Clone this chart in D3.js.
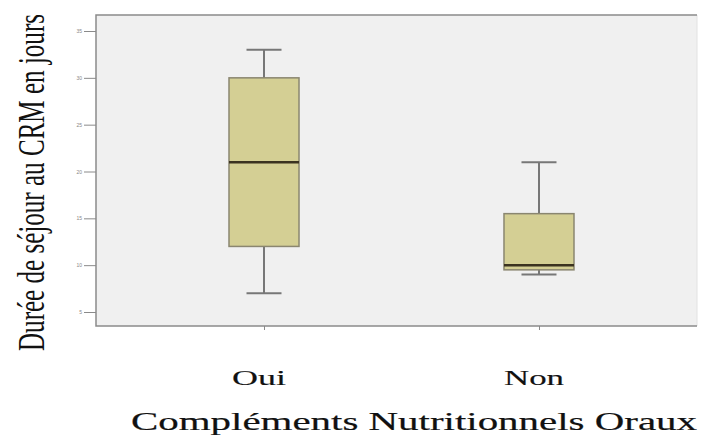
<!DOCTYPE html>
<html><head><meta charset="utf-8">
<script src="https://cdn.jsdelivr.net/npm/d3@7/dist/d3.min.js"></script>
<style>body{margin:0;background:#fff}svg{display:block}</style>
</head><body><svg id="c" width="701" height="437"></svg>
<script>
const categories = ["Oui", "Non"];
const whiskerLow = [7, 9];
const q1 = [12, 9.5];
const median = [21, 10];
const q3 = [30, 15.5];
const whiskerHigh = [33, 21];
const yTicks = [5, 10, 15, 20, 25, 30, 35];
const catLabelWidths = [54, 60];
const yTitle = "Durée de séjour au CRM en jours";
const xTitle = "Compléments Nutritionnels Oraux";

const svg = d3.select("#c");
const L = 96, T = 15, B = 326, R = 697;
const y = d3.scaleLinear().domain([5, 35]).range([312, 31]);
const x = d3.scalePoint().domain(categories).range([L, 707]).padding(0.611);

svg.append("rect").attr("x", L).attr("y", T).attr("width", R - L).attr("height", B - T).attr("fill", "#f0f0f0");
svg.append("line").attr("x1", R).attr("x2", R).attr("y1", T).attr("y2", B).attr("stroke", "#e2e2e2").attr("stroke-width", 1);
svg.append("path").attr("d", `M${R},${T}H${L}V${B}H${R}`).attr("fill", "none").attr("stroke", "#8a8a8a").attr("stroke-width", 1.5);

const yAxis = svg.append("g").attr("transform", `translate(${L},0)`)
  .call(d3.axisLeft(y).tickValues(yTicks).tickSize(12).tickPadding(2));
yAxis.select(".domain").remove();
yAxis.selectAll("line").attr("stroke", "#8a8a8a");
yAxis.selectAll("text").attr("font-family", "Liberation Sans, Arial, sans-serif").attr("font-size", 5).attr("fill", "#888");

const xAxis = svg.append("g").attr("transform", `translate(0,${B})`)
  .call(d3.axisBottom(x).tickSize(4).tickFormat(""));
xAxis.select(".domain").remove();
xAxis.selectAll("line").attr("stroke", "#8a8a8a");

const data = categories.map((c, i) => ({c, lo: whiskerLow[i], q1: q1[i], med: median[i], q3: q3[i], hi: whiskerHigh[i]}));
const bw = 70, cw = 35;
const g = svg.selectAll("g.box").data(data).join("g").attr("class", "box");
g.append("line").attr("x1", d => x(d.c)).attr("x2", d => x(d.c)).attr("y1", d => y(d.hi)).attr("y2", d => y(d.lo)).attr("stroke", "#777").attr("stroke-width", 2);
g.append("line").attr("x1", d => x(d.c) - cw / 2).attr("x2", d => x(d.c) + cw / 2).attr("y1", d => y(d.hi)).attr("y2", d => y(d.hi)).attr("stroke", "#777").attr("stroke-width", 2);
g.append("line").attr("x1", d => x(d.c) - cw / 2).attr("x2", d => x(d.c) + cw / 2).attr("y1", d => y(d.lo)).attr("y2", d => y(d.lo)).attr("stroke", "#777").attr("stroke-width", 2);
g.append("rect").attr("x", d => x(d.c) - bw / 2).attr("width", bw).attr("y", d => y(d.q3)).attr("height", d => y(d.q1) - y(d.q3))
  .attr("fill", "#d4cf94").attr("stroke", "#8a8670").attr("stroke-width", 1.5);
g.append("line").attr("x1", d => x(d.c) - bw / 2).attr("x2", d => x(d.c) + bw / 2).attr("y1", d => y(d.med)).attr("y2", d => y(d.med)).attr("stroke", "#3b3320").attr("stroke-width", 2.5);

const serif = "Liberation Serif, Times New Roman, serif";
svg.selectAll("text.cat").data(categories).join("text").attr("class", "cat")
  .attr("x", (d, i) => x(d) - 5 - catLabelWidths[i] / 2).attr("y", 385)
  .attr("textLength", (d, i) => catLabelWidths[i]).attr("lengthAdjust", "spacingAndGlyphs")
  .attr("font-family", serif).attr("font-size", 21).attr("fill", "#111")
  .attr("stroke", "#111").attr("stroke-width", 0.15).text(d => d);

svg.append("text").attr("x", 131).attr("y", 430).attr("textLength", 566).attr("lengthAdjust", "spacingAndGlyphs")
  .attr("font-family", serif).attr("font-size", 26).attr("fill", "#111")
  .attr("stroke", "#111").attr("stroke-width", 0.2).text(xTitle);

svg.append("text").attr("transform", "translate(44,351) scale(1.55,1) rotate(-90)").attr("textLength", 337).attr("lengthAdjust", "spacingAndGlyphs")
  .attr("font-family", serif).attr("font-size", 25).attr("fill", "#111").text(yTitle);
</script></body></html>
